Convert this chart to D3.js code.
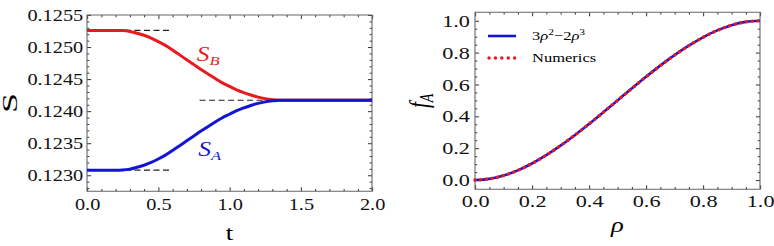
<!DOCTYPE html>
<html>
<head>
<meta charset="utf-8">
<script src="https://cdn.jsdelivr.net/npm/d3@7"></script>
<style>
  html, body { margin: 0; padding: 0; background: #fff; }
  svg { display: block; }
  svg text, svg tspan { font-family: "Liberation Serif", "Times New Roman", "DejaVu Serif", serif !important; }
</style>
</head>
<body>
<div id="chart"></div>
<script>
// left panel: S_A, S_B vs t
const tVals = [0, 0.1, 0.2, 0.25, 0.3, 0.35, 0.4, 0.45, 0.5, 0.55, 0.6, 0.65, 0.7, 0.75, 0.8, 0.85, 0.9, 0.95, 1.0,
  1.05, 1.1, 1.15, 1.2, 1.25, 1.3, 1.35, 1.4, 1.6, 1.8, 2.0];
const sB = [0.12526, 0.12526, 0.12526, 0.125257, 0.125244, 0.125216, 0.125184, 0.12514, 0.125086, 0.125026, 0.124955,
  0.124878, 0.124802, 0.124726, 0.12465, 0.124579, 0.124508, 0.124442, 0.124388, 0.124333, 0.12429, 0.124252,
  0.124219, 0.124195, 0.124179, 0.12417, 0.12417, 0.12417, 0.12417, 0.12417];
const sA = [0.12308, 0.12308, 0.12308, 0.123083, 0.123096, 0.123124, 0.123156, 0.1232, 0.123254, 0.123314, 0.123385,
  0.123462, 0.123538, 0.123614, 0.12369, 0.123761, 0.123832, 0.123898, 0.123952, 0.124007, 0.12405, 0.124088,
  0.124121, 0.124145, 0.124161, 0.12417, 0.12417, 0.12417, 0.12417, 0.12417];
// dashed reference levels [t from, t to, S]
const refLines = [[0, 0.6, 0.12526], [0, 0.6, 0.12308], [0.79, 2.0, 0.12417]];
const leftYTicks = [0.1230, 0.1235, 0.1240, 0.1245, 0.1250, 0.1255];
const leftXTicks = [0, 0.5, 1.0, 1.5, 2.0];

// right panel: f_A vs rho
const rhoVals = [0, 0.05, 0.1, 0.15, 0.2, 0.25, 0.3, 0.35, 0.4, 0.45, 0.5, 0.55, 0.6, 0.65, 0.7, 0.75, 0.8, 0.85, 0.9, 0.95, 1.0];
const fAnalytic = [0, 0.00725, 0.028, 0.06075, 0.104, 0.15625, 0.216, 0.28175, 0.352, 0.42525, 0.5, 0.57475, 0.648, 0.71825, 0.784, 0.84375, 0.896, 0.93925, 0.972, 0.99275, 1.0];
const fNumerics = [0, 0.0073, 0.028, 0.0608, 0.104, 0.1562, 0.216, 0.2818, 0.352, 0.4252, 0.5, 0.5748, 0.648, 0.7182, 0.784, 0.8438, 0.896, 0.9392, 0.972, 0.9928, 1.0];
const rightTicks = [0, 0.2, 0.4, 0.6, 0.8, 1.0];

const RED = "#e8191f";
const BLUE = "#1414d6";
const SERIF = "Liberation Serif";

// the original figure is stretched horizontally, so draw narrow and stretch
const K = 1.27;
const W = 774, H = 246;
const VW = W / K;

const svg = d3.select("#chart").append("svg")
  .attr("width", W).attr("height", H)
  .attr("viewBox", `0 0 ${VW} ${H}`)
  .attr("preserveAspectRatio", "none")
  .attr("font-family", SERIF);

function frameAxes(x, y, xTicks, yTicks, xMinor, yMinor, fmtX, fmtY, fs, pad) {
  const [xa, xb] = x.range();
  const [ya, yb] = y.range(); // ya bottom, yb top
  const g = svg.append("g");

  const style = sel => {
    sel.attr("font-family", SERIF);
    sel.select(".domain").remove();
    sel.selectAll("line").attr("stroke", "#333").attr("vector-effect", "non-scaling-stroke");
    sel.selectAll("text").style("font-size", fs + "px").attr("fill", "#111");
  };

  // major ticks with labels
  g.append("g").attr("transform", `translate(0,${ya})`)
    .call(d3.axisBottom(x).tickValues(xTicks).tickSize(-4).tickPadding(pad.x).tickFormat(fmtX)).call(style);
  g.append("g").attr("transform", `translate(${xa},0)`)
    .call(d3.axisLeft(y).tickValues(yTicks).tickSize(-3.2).tickPadding(pad.y).tickFormat(fmtY)).call(style);
  g.append("g").attr("transform", `translate(0,${yb})`)
    .call(d3.axisTop(x).tickValues(xTicks).tickSize(-4).tickFormat("")).call(style);
  g.append("g").attr("transform", `translate(${xb},0)`)
    .call(d3.axisRight(y).tickValues(yTicks).tickSize(-3.2).tickFormat("")).call(style);

  // minor ticks
  g.append("g").attr("transform", `translate(0,${ya})`)
    .call(d3.axisBottom(x).tickValues(xMinor).tickSize(-2.3).tickFormat("")).call(style);
  g.append("g").attr("transform", `translate(0,${yb})`)
    .call(d3.axisTop(x).tickValues(xMinor).tickSize(-2.3).tickFormat("")).call(style);
  g.append("g").attr("transform", `translate(${xa},0)`)
    .call(d3.axisLeft(y).tickValues(yMinor).tickSize(-1.8).tickFormat("")).call(style);
  g.append("g").attr("transform", `translate(${xb},0)`)
    .call(d3.axisRight(y).tickValues(yMinor).tickSize(-1.8).tickFormat("")).call(style);

  g.append("rect")
    .attr("x", xa).attr("y", yb)
    .attr("width", xb - xa).attr("height", ya - yb)
    .attr("fill", "none").attr("stroke", "#666").attr("stroke-width", 1.1)
    .attr("vector-effect", "non-scaling-stroke");
}

// ---------- left panel ----------
const xL = d3.scaleLinear().domain([0, 2]).range([87 / K, 372 / K]);
const yL = d3.scaleLinear().domain([0.12275, 0.1255]).range([191.3, 15]);

const leftMinorX = d3.range(0, 2.001, 0.1).filter(v => Math.abs(v * 2 - Math.round(v * 2)) > 1e-6);
const leftMinorY = d3.range(0.1228, 0.12551, 0.0001).filter(v => Math.abs(v / 0.0005 - Math.round(v / 0.0005)) > 1e-4);

frameAxes(xL, yL, leftXTicks, leftYTicks, leftMinorX, leftMinorY,
  d3.format(".1f"), d3.format(".4f"), 16, { x: 7.4, y: 3 });

svg.append("g").selectAll("line")
  .data(refLines)
  .join("line")
  .attr("x1", d => xL(d[0])).attr("x2", d => xL(d[1]))
  .attr("y1", d => yL(d[2])).attr("y2", d => yL(d[2]))
  .attr("stroke", "#222").attr("stroke-width", 1.1)
  .attr("stroke-dasharray", "6,3.5")
  .attr("vector-effect", "non-scaling-stroke");

const lineL = d3.line().x(d => xL(d[0])).y(d => yL(d[1])).curve(d3.curveMonotoneX);

[[sB, RED], [sA, BLUE]].forEach(([vals, col]) => {
  svg.append("path")
    .datum(tVals.map((t, i) => [t, vals[i]]))
    .attr("d", lineL)
    .attr("fill", "none").attr("stroke", col).attr("stroke-width", 3)
    .attr("vector-effect", "non-scaling-stroke");
});

function subLabel(x, y, main, sub, col, fs) {
  const t = svg.append("text").attr("x", x).attr("y", y)
    .style("font-size", fs + "px").style("font-style", "italic").attr("fill", col);
  t.append("tspan").text(main);
  t.append("tspan").attr("dy", 4).style("font-size", (fs * 0.65) + "px").text(sub);
  return t;
}

subLabel(154.9, 61.5, "S", "B", RED, 20);
subLabel(156.1, 156.5, "S", "A", BLUE, 20);

svg.append("text")
  .attr("x", (xL.range()[0] + xL.range()[1]) / 2).attr("y", 240)
  .attr("text-anchor", "middle").style("font-size", "21px").text("t");

svg.append("text")
  .attr("transform", `translate(13.1,103) rotate(-90)`)
  .attr("text-anchor", "middle")
  .attr("textLength", 20).attr("lengthAdjust", "spacingAndGlyphs")
  .style("font-size", "16px").text("S");

// ---------- right panel ----------
const xR = d3.scaleLinear().domain([0, 1]).range([475 / K, 760 / K]);
const yR = d3.scaleLinear().domain([-0.058, 1.053]).range([189.3, 12.3]);

const rightMinor = d3.range(0, 1.001, 0.05).filter(v => Math.abs(v * 5 - Math.round(v * 5)) > 1e-6);

frameAxes(xR, yR, rightTicks, rightTicks, rightMinor, rightMinor,
  d3.format(".1f"), d3.format(".1f"), 17.5, { x: 5, y: 4 });

const lineR = d3.line().x(d => xR(d[0])).y(d => yR(d[1])).curve(d3.curveMonotoneX);

svg.append("path")
  .datum(rhoVals.map((r, i) => [r, fAnalytic[i]]))
  .attr("d", lineR)
  .attr("fill", "none").attr("stroke", BLUE).attr("stroke-width", 2.6)
  .attr("vector-effect", "non-scaling-stroke");

svg.append("path")
  .datum(rhoVals.map((r, i) => [r, fNumerics[i]]))
  .attr("d", lineR)
  .attr("fill", "none").attr("stroke", RED).attr("stroke-width", 3.4)
  .attr("stroke-linecap", "round").attr("stroke-dasharray", "0.1,5.6")
  .attr("vector-effect", "non-scaling-stroke");

// legend
const legend = svg.append("g");
legend.append("line")
  .attr("x1", 488 / K).attr("x2", 516 / K).attr("y1", 36).attr("y2", 36)
  .attr("stroke", BLUE).attr("stroke-width", 2.6).attr("vector-effect", "non-scaling-stroke");
legend.append("line")
  .attr("x1", 489 / K).attr("x2", 516 / K).attr("y1", 58).attr("y2", 58)
  .attr("stroke", RED).attr("stroke-width", 3.4).attr("stroke-linecap", "round")
  .attr("stroke-dasharray", "0.1,6.3").attr("vector-effect", "non-scaling-stroke");

const lt = legend.append("text").attr("x", 532 / K).attr("y", 40).style("font-size", "13px");
lt.append("tspan").text("3");
lt.append("tspan").style("font-style", "italic").text("ρ");
lt.append("tspan").attr("dy", -5).style("font-size", "9px").text("2");
lt.append("tspan").attr("dy", 5).text("−2");
lt.append("tspan").style("font-style", "italic").text("ρ");
lt.append("tspan").attr("dy", -5).style("font-size", "9px").text("3");

legend.append("text").attr("x", 532 / K).attr("y", 62.5).style("font-size", "13px").text("Numerics");

svg.append("text")
  .attr("x", (xR.range()[0] + xR.range()[1]) / 2).attr("y", 232)
  .attr("text-anchor", "middle")
  .style("font-size", "21px").style("font-style", "italic").text("ρ");

const fl = svg.append("text")
  .attr("transform", `translate(337,${(12.3 + 189.3) / 2}) rotate(-90)`)
  .attr("text-anchor", "middle")
  .style("font-size", "21px").style("font-style", "italic");
fl.append("tspan").text("f");
fl.append("tspan").attr("dy", 4).style("font-size", "14px").text("A");
</script>
</body>
</html>
